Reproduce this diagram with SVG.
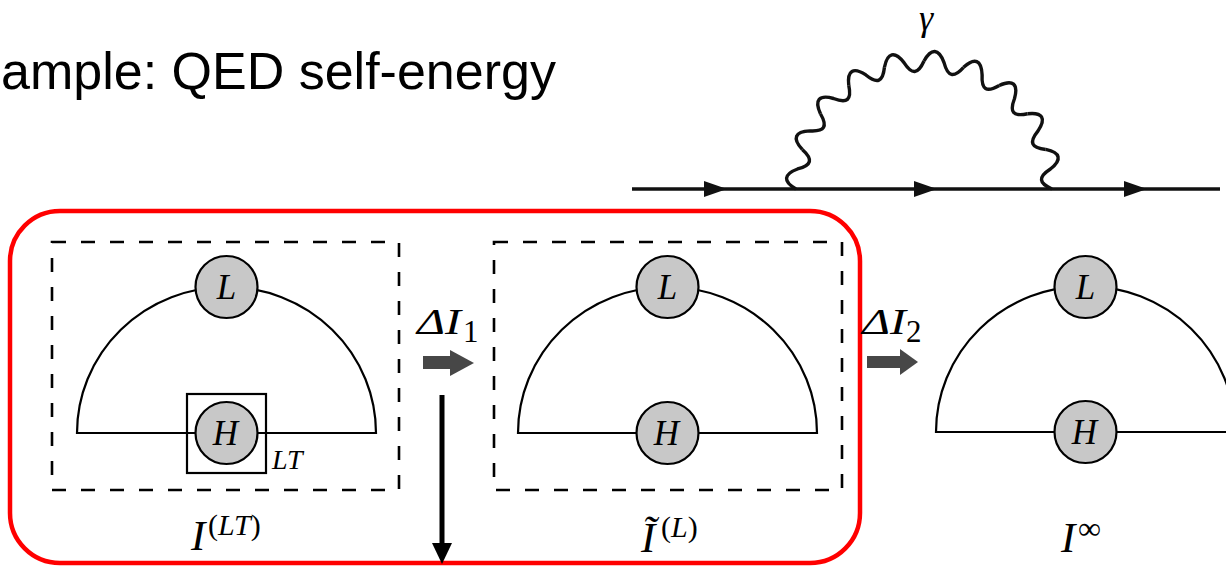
<svg xmlns="http://www.w3.org/2000/svg" xmlns:xlink="http://www.w3.org/1999/xlink" width="1226" height="566" viewBox="0 0 1226 566">
<style>
.title{font-family:"Liberation Sans",Arial,sans-serif;font-size:52px;fill:#000}
.m{font-family:"Liberation Serif","Times New Roman",serif;font-style:italic;fill:#000}
.up{font-family:"Liberation Serif","Times New Roman",serif;fill:#000}
.loop{fill:none;stroke:#000;stroke-width:2.2}
.blob{fill:#c8c8c8;stroke:#000;stroke-width:2.2}
.dash{fill:none;stroke:#000;stroke-width:2.6;stroke-dasharray:14 15}
.gray{fill:#474747}
.fer{stroke:#111;stroke-width:3.4;fill:none}
.wave{fill:none;stroke:#111;stroke-width:3.4}
</style>
<defs>
<path id="wu" class="wave" d="M-20.02,-126.42 C-14.773,-140.56 -7.397,-141.14 0,-128 C6.001,-114.51 11.986,-114.04 20.02,-126.42"/>
</defs>
<rect width="1226" height="566" fill="#fff"/>
<text class="title" x="1" y="89">ample: QED self-energy</text>

<g id="feynman">
<line class="fer" x1="632" y1="189" x2="1220" y2="189"/>
<polygon points="704,181 727,189 704,197" fill="#111"/>
<polygon points="914,181 937,189 914,197" fill="#111"/>
<polygon points="1124,181 1147,189 1124,197" fill="#111"/>
<g transform="translate(924,189)">
<use xlink:href="#wu" transform="rotate(-81)"/>
<use xlink:href="#wu" transform="rotate(-63)"/>
<use xlink:href="#wu" transform="rotate(-45)"/>
<use xlink:href="#wu" transform="rotate(-27)"/>
<use xlink:href="#wu" transform="rotate(-9)"/>
<use xlink:href="#wu" transform="rotate(9)"/>
<use xlink:href="#wu" transform="rotate(27)"/>
<use xlink:href="#wu" transform="rotate(45)"/>
<use xlink:href="#wu" transform="rotate(63)"/>
<use xlink:href="#wu" transform="rotate(81)"/>
</g>
<text class="m" x="926" y="30" font-size="36" text-anchor="middle" fill="#222">γ</text>
</g>

<g id="frame">
<rect x="10" y="211" width="850" height="352" rx="50" ry="50" fill="none" stroke="#ff0000" stroke-width="4.5"/>
</g>

<g id="panel-LT">
<rect class="dash" x="52" y="242" width="347" height="248"/>
<path class="loop" d="M77,433 A149.5,146 0 0 1 376,433 Z"/>
<circle class="blob" cx="226.5" cy="287" r="31"/>
<text class="m" x="226.5" y="299" font-size="35" text-anchor="middle">L</text>
<rect class="loop" x="187" y="394" width="79" height="79"/>
<circle class="blob" cx="226.5" cy="433" r="31"/>
<text class="m" x="225.5" y="445" font-size="35" text-anchor="middle">H</text>
<text class="m" x="272" y="469" font-size="28">LT</text>
<text class="m" x="191" y="550" font-size="43">I</text>
<text class="up" x="208" y="535" font-size="30">(<tspan class="m">LT</tspan>)</text>
</g>

<g id="panel-L">
<rect class="dash" x="494" y="242" width="348" height="248"/>
<path class="loop" d="M518,433 A149.5,146 0 0 1 817,433 Z"/>
<circle class="blob" cx="667.5" cy="287" r="31"/>
<text class="m" x="667.5" y="299" font-size="35" text-anchor="middle">L</text>
<circle class="blob" cx="667.5" cy="433" r="31"/>
<text class="m" x="666.5" y="445" font-size="35" text-anchor="middle">H</text>
<text class="m" x="641" y="552" font-size="43">Ĩ</text>
<text class="up" x="661" y="537" font-size="30">(<tspan class="m">L</tspan>)</text>
</g>

<g id="panel-inf">
<path class="loop" d="M936,432 A149.5,146 0 0 1 1235,432 Z"/>
<circle class="blob" cx="1085.5" cy="287" r="31"/>
<text class="m" x="1085.5" y="299" font-size="35" text-anchor="middle">L</text>
<circle class="blob" cx="1085.5" cy="432" r="31"/>
<text class="m" x="1084.5" y="444" font-size="35" text-anchor="middle">H</text>
<text class="m" x="1061" y="552" font-size="43">I</text>
<text class="up" x="1078" y="539" font-size="32">∞</text>
</g>

<g id="connectors">
<text class="m" x="417" y="334" font-size="35" textLength="44" lengthAdjust="spacingAndGlyphs">ΔI</text>
<text class="up" x="463" y="342" font-size="31">1</text>
<rect class="gray" x="423" y="356" width="28" height="13"/>
<polygon class="gray" points="450,350 474,363 450,376"/>
<text class="m" x="862" y="334" font-size="35" textLength="44" lengthAdjust="spacingAndGlyphs">ΔI</text>
<text class="up" x="906" y="342" font-size="31">2</text>
<rect class="gray" x="867" y="356" width="34" height="12"/>
<polygon class="gray" points="900,349 918,362 900,375"/>
<line x1="442" y1="395" x2="442" y2="548" stroke="#000" stroke-width="5"/>
<polygon points="432,543 452,543 442,564" fill="#000"/>
</g>
</svg>
